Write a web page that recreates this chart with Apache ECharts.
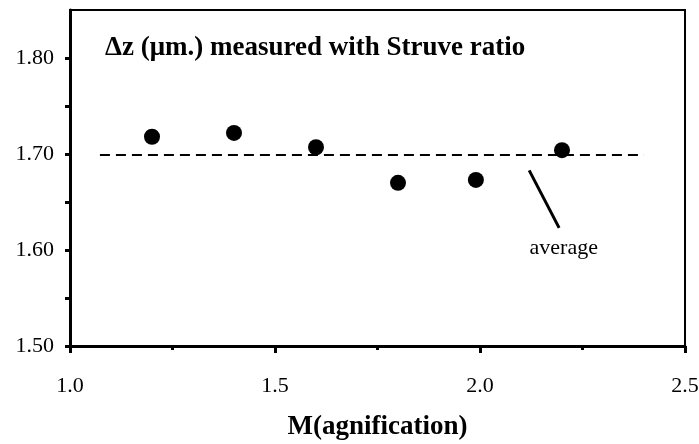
<!DOCTYPE html>
<html>
<head>
<meta charset="utf-8">
<script src="https://cdn.jsdelivr.net/npm/echarts@6/dist/echarts.min.js"></script>
<style>
  html, body { margin: 0; padding: 0; background: #fff; }
  #main { width: 699px; height: 444px; }
</style>
</head>
<body>
<div id="main"></div>
<script>
// magnification vs measured dz
const magnification = [1.2, 1.4, 1.6, 1.8, 1.99, 2.2];
const dz = [1.718, 1.722, 1.707, 1.670, 1.673, 1.704];
const average = 1.699;
const averageFrom = 1.073, averageTo = 2.40;
const pointerLine = [[2.12, 1.683], [2.193, 1.623]];
const yLabels = [1.5, 1.6, 1.7, 1.8];
const yTicks = [1.5, 1.55, 1.6, 1.65, 1.7, 1.75, 1.8];

const font = "Liberation Serif";
let myChart = echarts.init(document.getElementById("main"));
myChart.setOption({
  animation: false,
  title: {
    text: "\u0394z (\u03bcm.) measured with Struve ratio",
    left: 100,
    top: 30,
    textStyle: { fontFamily: font, fontSize: 27, fontWeight: "bold", color: "#000" },
  },
  grid: {
    left: 70, right: 14, top: 10, bottom: 98,
    outerBoundsMode: "none",
    show: true, borderColor: "#000", borderWidth: 2,
  },
  xAxis: {
    type: "value",
    min: 1.0, max: 2.5, interval: 0.5,
    name: "M(agnification)",
    nameLocation: "middle",
    nameGap: 68,
    nameTextStyle: { fontFamily: font, fontSize: 27, fontWeight: "bold", color: "#000" },
    axisLine: { lineStyle: { color: "#000", width: 3 } },
    axisTick: { length: 7, lineStyle: { color: "#000", width: 3 } },
    minorTick: { show: true, splitNumber: 2, length: 4, lineStyle: { color: "#000", width: 3 } },
    splitLine: { show: false },
    axisLabel: {
      margin: 29, fontFamily: font, fontSize: 22, color: "#000",
      formatter: (v) => v.toFixed(1),
    },
  },
  yAxis: {
    type: "value",
    min: 1.5, max: 1.85, interval: 0.05,
    axisLine: { lineStyle: { color: "#000", width: 3 } },
    axisTick: { length: 5, customValues: yTicks, lineStyle: { color: "#000", width: 3 } },
    splitLine: { show: false },
    axisLabel: {
      margin: 16, fontFamily: font, fontSize: 22, color: "#000",
      customValues: yLabels,
      formatter: (v) => v.toFixed(2),
    },
  },
  series: [
    {
      type: "scatter",
      data: magnification.map((m, i) => [m, dz[i]]),
      symbol: "circle",
      symbolSize: 16,
      itemStyle: { color: "#000", opacity: 1 },
      markLine: {
        silent: true,
        symbol: "none",
        data: [
          [
            { coord: [averageFrom, average], lineStyle: { type: [10, 6], width: 2, color: "#000" }, label: { show: false } },
            { coord: [averageTo, average] },
          ],
          [
            {
              coord: pointerLine[0], lineStyle: { type: "solid", width: 3, color: "#000" },
              label: {
                show: true, position: "end", formatter: "average", distance: 10,
                fontFamily: font, fontSize: 22, color: "#000",
              },
            },
            { coord: pointerLine[1] },
          ],
        ],
      },
    },
  ],
});
</script>
</body>
</html>
